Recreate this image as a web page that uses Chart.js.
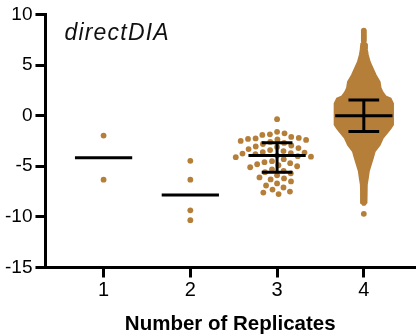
<!DOCTYPE html>
<html>
<head>
<meta charset="utf-8">
<script src="https://cdn.jsdelivr.net/npm/chart.js@4.4.1/dist/chart.umd.min.js"></script>
<style>
  html, body { margin: 0; padding: 0; background: #fff; }
  #wrap { width: 419px; height: 335px; position: relative; }
</style>
</head>
<body>
<div id="wrap"><canvas id="myChart"></canvas></div>
<script>
// values
const categories = ['1', '2', '3', '4'];
const rep1Values = [-1.97, -6.33];
const rep2Values = [-4.46, -6.33, -9.35, -10.33];
const rep3Values = [
  -0.35,
  -1.6, -1.75, -1.85, -1.9,
  -2.1, -2.2, -2.25, -2.3, -2.35, -2.4, -2.5, -2.6,
  -2.7,
  -2.8, -2.95, -3.05, -3.1, -3.2, -3.3, -3.4, -3.5, -3.6, -3.65, -3.7, -3.75, -3.8,
  -3.94,
  -4.0, -4.05, -4.1, -4.3, -4.5, -4.6, -4.7, -4.8, -4.9, -5.0, -5.1, -5.3, -5.45,
  -5.58,
  -5.7, -5.9, -6.1, -6.2, -6.3, -6.5, -6.7, -6.9, -7.1, -7.3, -7.5, -7.6, -7.75
];
// replicate 4 has thousands of points: outline of the swarm (half width in x units) + lone tail points
const rep4Levels = [7.25, 7.1, 6.5, 6.0, 5.3, 4.65, 4.0, 3.35, 2.7, 2.3, 1.9, 1.7, 1.2,
  -0.9, -1.25, -1.75, -2.23, -2.9, -3.54, -4.2, -4.85, -5.5, -6.17, -6.8, -7.5, -8.6, -8.8];
const rep4HalfWidth = [0.009, 0.029, 0.036, 0.046, 0.068, 0.103, 0.137, 0.182, 0.194, 0.217, 0.251, 0.308, 0.336,
  0.336, 0.308, 0.262, 0.217, 0.182, 0.125, 0.103, 0.080, 0.057, 0.046, 0.034, 0.032, 0.029, 0.011];
const rep4Tails = [8.4, 8.2, 8.0, 7.8, 7.6, 7.4, -9.7];
const medians = [-4.15, -7.84, -3.94, 0.0];
const upperQuartiles = [null, null, -2.69, 1.54];
const lowerQuartiles = [null, null, -5.58, -1.57];
const yTicks = [-15, -10, -5, 0, 5, 10];

const gold = '#b57f3a';
const medianHalf = 0.33;
const capHalf = 0.177;

const datasets = [];

// swarm outline of replicate 4
const right = rep4Levels.map((y, i) => ({ x: 4 + rep4HalfWidth[i], y }));
const left = rep4Levels.map((y, i) => ({ x: 4 - rep4HalfWidth[i], y })).reverse();
datasets.push({
  type: 'line',
  data: right.concat(left, [right[0]]),
  fill: 'shape',
  backgroundColor: gold,
  borderColor: gold,
  borderWidth: 2,
  pointRadius: 0,
  tension: 0,
  order: 3
});

const swarmSets = [rep1Values, rep2Values, rep3Values];
swarmSets.forEach((vals, i) => {
  datasets.push({
    type: 'scatter',
    data: vals.map(v => ({ x: i + 1, y: v })),
    backgroundColor: gold,
    borderWidth: 0,
    pointRadius: 2.9,
    order: 2,
    swarm: true
  });
});
datasets.push({
  type: 'scatter',
  data: rep4Tails.map(v => ({ x: 4, y: v })),
  backgroundColor: gold,
  borderWidth: 0,
  pointRadius: 2.9,
  order: 2
});

function blackLine(pts) {
  datasets.push({
    type: 'line',
    data: pts,
    borderColor: '#000',
    borderWidth: 3,
    borderCapStyle: 'butt',
    pointRadius: 0,
    fill: false,
    order: 1
  });
}
medians.forEach((m, i) => {
  const c = i + 1;
  blackLine([{ x: c - medianHalf, y: m }, { x: c + medianHalf, y: m }]);
  if (upperQuartiles[i] !== null) {
    blackLine([{ x: c, y: upperQuartiles[i] }, { x: c, y: lowerQuartiles[i] }]);
    blackLine([{ x: c - capHalf, y: upperQuartiles[i] }, { x: c + capHalf, y: upperQuartiles[i] }]);
    blackLine([{ x: c - capHalf, y: lowerQuartiles[i] }, { x: c + capHalf, y: lowerQuartiles[i] }]);
  }
});

const panelLabel = {
  id: 'panelLabel',
  afterDraw(chart) {
    const { ctx, chartArea } = chart;
    ctx.save();
    ctx.font = 'italic 23px "Liberation Sans", Arial, sans-serif';
    ctx.letterSpacing = '1.2px';
    ctx.fillStyle = '#111';
    ctx.textBaseline = 'alphabetic';
    ctx.fillText('directDIA', chartArea.left + 19, chartArea.top + 26);
    ctx.restore();
  }
};

Chart.defaults.font.family = '"Liberation Sans", Arial, sans-serif';
Chart.defaults.color = '#000';

const chart = new Chart(document.getElementById('myChart'), {
  type: 'scatter',
  data: { datasets },
  options: {
    responsive: true,
    maintainAspectRatio: false,
    animation: false,
    events: [],
    layout: { padding: { top: 11, left: 2, right: -5, bottom: 0 } },
    plugins: { legend: { display: false }, tooltip: { enabled: false } },
    scales: {
      x: {
        type: 'linear',
        min: 0.33,
        max: 4.59,
        afterBuildTicks: s => { s.ticks = categories.map((c, i) => ({ value: i + 1 })); },
        ticks: {
          autoSkip: false,
          font: { size: 20 },
          color: '#000',
          padding: 1,
          callback: v => categories[v - 1]
        },
        grid: { drawOnChartArea: false, drawTicks: true, tickLength: 10, tickWidth: 3, tickColor: '#000' },
        border: { width: 3, color: '#000' },
        title: {
          display: true,
          text: 'Number of Replicates',
          font: { size: 20.5, weight: 'bold', lineHeight: 1.0 },
          color: '#000',
          padding: { top: 11, bottom: 0 }
        }
      },
      y: {
        min: -15,
        max: 10,
        afterBuildTicks: s => { s.ticks = yTicks.map(v => ({ value: v })); },
        ticks: { font: { size: 19 }, color: '#000', padding: 3 },
        grid: { drawOnChartArea: false, drawTicks: true, tickLength: 10, tickWidth: 3, tickColor: '#000' },
        border: { width: 3, color: '#000' }
      }
    }
  },
  plugins: [panelLabel]
});

// lay out the dots as a beeswarm in pixel space
function beeswarm(vals, center, diameter) {
  const xs = chart.scales.x, ys = chart.scales.y;
  const cx = xs.getPixelForValue(center);
  const order = vals.map((v, i) => i).sort((a, b) => vals[b] - vals[a]);
  const placed = [];
  const out = new Array(vals.length);
  for (const i of order) {
    const py = ys.getPixelForValue(vals[i]);
    const cands = [0];
    for (const p of placed) {
      const dy = Math.abs(p.y - py);
      if (dy < diameter) {
        const dx = Math.sqrt(diameter * diameter - dy * dy);
        cands.push(p.x + dx, p.x - dx);
      }
    }
    cands.sort((a, b) => Math.abs(a) - Math.abs(b));
    let off = 0;
    for (const c of cands) {
      const ok = placed.every(p => (p.x - c) ** 2 + (p.y - py) ** 2 >= diameter * diameter - 0.01);
      if (ok) { off = c; break; }
    }
    placed.push({ x: off, y: py });
    out[i] = { x: xs.getValueForPixel(cx + off), y: vals[i] };
  }
  return out;
}

let k = 0;
chart.data.datasets.forEach(ds => {
  if (ds.swarm) {
    ds.data = beeswarm(swarmSets[k], k + 1, 7.6);
    k++;
  }
});
chart.update('none');
</script>
</body>
</html>
